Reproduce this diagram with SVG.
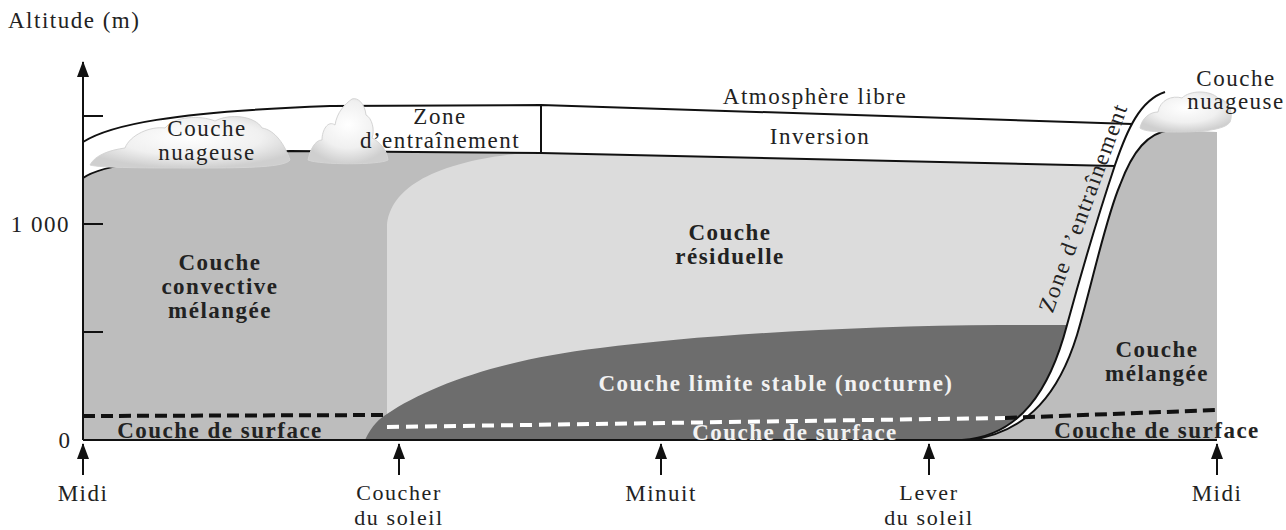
<svg xmlns="http://www.w3.org/2000/svg" width="1286" height="530" viewBox="0 0 1286 530">
<style>
.t{font-family:"Liberation Serif","Times New Roman",serif;font-size:23px;letter-spacing:1.5px;fill:#222;text-anchor:middle}
.s{font-size:22px;letter-spacing:1.6px}
.b{font-weight:bold}
.w{fill:#f2f2f2}
.ln{fill:none;stroke:#111;stroke-width:2}
.mid{fill:#bdbdbd}
.lt{fill:#dcdcdc}
.dk{fill:#6d6d6d}
.cloud{fill:url(#cg);stroke:#d4d4d4;stroke-width:1}
</style>
<defs>
<marker id="ah" markerUnits="userSpaceOnUse" markerWidth="16" markerHeight="12" refX="15" refY="6" orient="auto">
<path d="M0,0 L16,6 L0,12 Z" fill="#111"/>
</marker>
<radialGradient id="cg" cx="50%" cy="40%" r="60%">
<stop offset="0" stop-color="#ffffff"/>
<stop offset="0.6" stop-color="#f0f0f0"/>
<stop offset="1" stop-color="#cfcfcf"/>
</radialGradient>
</defs>
<rect width="1286" height="530" fill="#fff"/>

<g id="couche-convective">
<path class="mid" d="M83,178 C100,166 150,156 290,151 L541,153 L1115,166 C1100,210 1082,270 1067,325 C1050,390 1020,436 962,440 L83,440 Z"/>
</g>
<g id="couche-residuelle">
<path class="lt" d="M387,440 L387,225 C390,195 420,165 515,154 L541,153 L1115,166 C1100,210 1082,270 1067,325 C1050,390 1020,436 962,440 Z"/>
</g>
<g id="couche-stable">
<path class="dk" d="M365,440 C372,425 380,418 387,414 C430,385 500,360 600,348 C700,335 850,326 1000,325 L1067,325 C1050,390 1020,436 962,440 Z"/>
</g>
<g id="couche-melangee">
<path class="mid" d="M970,440 C1030,432 1060,390 1077,335 C1092,285 1105,220 1120,185 C1133,150 1148,133 1170,130 L1217,132 L1217,440 Z"/>
</g>

<g id="connectors">
<path class="ln" d="M83,142 C110,125 170,112 330,106 L541,105 L1132,124"/>
<path class="ln" d="M541,105 L541,153"/>
<path class="ln" d="M83,178 C100,166 150,156 290,151 L541,153 L1115,166"/>
<path class="ln" d="M962,440 C1020,436 1050,390 1067,325 C1082,270 1100,210 1115,165 C1127,130 1140,100 1165,92"/>
<path class="ln" d="M970,440 C1030,432 1060,390 1077,335 C1092,285 1105,220 1120,185 C1133,150 1148,133 1170,130"/>
<path d="M83,416 L385,415" stroke="#111" stroke-width="4" stroke-dasharray="12 6" fill="none"/>
<path d="M1005,418 L1217,410" stroke="#111" stroke-width="4" stroke-dasharray="12 6" fill="none"/>
<path d="M387,427 L1005,418" stroke="#fff" stroke-width="4" stroke-dasharray="12 7" fill="none"/>
<path class="ln" d="M83,440 L1217,440"/>
<path class="ln" d="M83,440 L83,62" marker-end="url(#ah)"/>
<path class="ln" d="M83,116 L103,116 M83,224 L103,224 M83,332 L103,332"/>
<path class="ln" d="M83,475 L83,444" marker-end="url(#ah)"/>
<path class="ln" d="M399,475 L399,444" marker-end="url(#ah)"/>
<path class="ln" d="M661,475 L661,444" marker-end="url(#ah)"/>
<path class="ln" d="M929,475 L929,444" marker-end="url(#ah)"/>
<path class="ln" d="M1217,475 L1217,444" marker-end="url(#ah)"/>
</g>

<g id="nuage-gauche">
<path class="cloud" d="M90,165 C95,155 110,150 125,148 C130,135 150,126 165,128 C175,116 200,115 215,121 C230,113 255,116 262,128 C275,130 285,145 290,160 C285,167 250,168 200,168 C150,168 100,168 90,165 Z"/>
<text class="t" x="207" y="136">Couche</text>
<text class="t" x="207" y="160">nuageuse</text>
</g>
<g id="cumulus">
<path class="cloud" d="M308,160 C310,150 315,140 322,140 C322,130 328,120 335,125 C337,112 345,104 352,99 C358,97 365,104 366,115 C372,118 375,130 372,138 C380,142 387,150 388,160 C380,165 320,165 308,160 Z"/>
</g>
<g id="nuage-droite">
<path class="cloud" d="M1140,128 C1142,118 1150,112 1158,112 C1160,100 1172,95 1182,98 C1190,90 1210,90 1218,98 C1228,100 1234,112 1230,122 C1225,130 1200,132 1180,132 C1160,132 1145,132 1140,128 Z"/>
<text class="t" x="1236" y="86">Couche</text>
<text class="t" x="1236" y="109">nuageuse</text>
</g>

<g id="zone-entrainement">
<text class="t" x="440" y="124">Zone</text>
<text class="t" x="440" y="148">d’entraînement</text>
</g>
<g id="atmosphere-libre"><text class="t" x="815" y="104">Atmosphère libre</text></g>
<g id="inversion"><text class="t" x="820" y="144">Inversion</text></g>
<g id="label-convective">
<text class="t b" x="220" y="270">Couche</text>
<text class="t b" x="220" y="294">convective</text>
<text class="t b" x="220" y="318">mélangée</text>
</g>
<g id="label-residuelle">
<text class="t b" x="730" y="240">Couche</text>
<text class="t b" x="730" y="264">résiduelle</text>
</g>
<g id="label-stable"><text class="t b w" x="776" y="391">Couche limite stable (nocturne)</text></g>
<g id="surface-gauche"><text class="t b" x="220" y="438">Couche de surface</text></g>
<g id="surface-milieu"><text class="t b w" x="795" y="440">Couche de surface</text></g>
<g id="surface-droite"><text class="t b" x="1157" y="438">Couche de surface</text></g>
<g id="label-melangee">
<text class="t b" x="1157" y="357">Couche</text>
<text class="t b" x="1157" y="381">mélangée</text>
</g>
<g id="zone-entrainement-matin">
<text class="t" transform="translate(1095,212) rotate(-70)" x="0" y="-5">Zone d’entraînement</text>
</g>

<g id="axes-labels">
<text class="t" x="8" y="28" style="text-anchor:start">Altitude (m)</text>
<text class="t" x="70" y="232" style="text-anchor:end">1 000</text>
<text class="t" x="65" y="448">0</text>
<text class="t" x="83" y="501">Midi</text>
<text class="t s" x="399" y="500">Coucher</text>
<text class="t s" x="399" y="525">du soleil</text>
<text class="t" x="661" y="501">Minuit</text>
<text class="t s" x="929" y="500">Lever</text>
<text class="t s" x="929" y="525">du soleil</text>
<text class="t" x="1217" y="501">Midi</text>
</g>
</svg>
